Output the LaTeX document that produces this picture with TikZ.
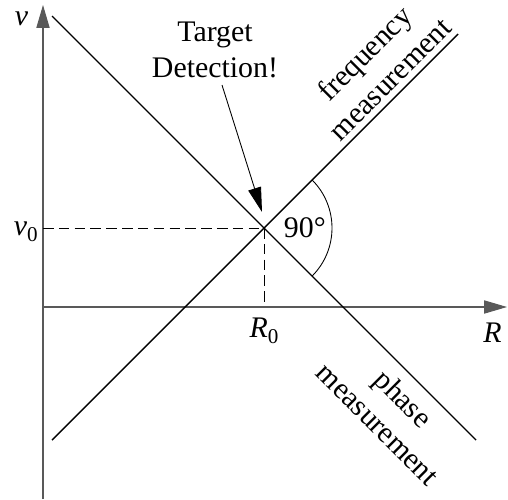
\documentclass[tikz,border=0pt]{standalone}
\usepackage{fontspec}
\setmainfont{Liberation Serif}
\usepackage{tikz}
\usetikzlibrary{calc, angles, quotes, arrows.meta}

\newcommand{\lowsub}[1]{\raisebox{-0.45ex}{\fontsize{12}{12}\selectfont #1}}

\begin{document}
\begin{tikzpicture}[
    every node/.style={font=\fontsize{17}{20.5}\selectfont, inner sep=0pt},
    axis/.style={draw=black!65, line width=0.6pt, -{Triangle[length=13pt, width=7.5pt]}},
    curve/.style={line width=0.8pt},
    guide/.style={line width=0.5pt, dash pattern=on 6pt off 3pt},
    pointer/.style={line width=0.5pt, -{Triangle[length=14pt, width=7.5pt]}}
]
    \useasboundingbox (-0.86,-3.84) rectangle (9.30,6.14);

    \coordinate (O) at (0, 0);
    \coordinate (vbot) at (0, -3.84);
    \coordinate (vtop) at (0, 6.04);
    \coordinate (Rend) at (9.28, 0);
    \coordinate (P) at (4.42, 1.58);
    \coordinate (A) at (0.18, 5.82);
    \coordinate (B) at (8.66, -2.66);
    \coordinate (C) at (0.18, -2.66);
    \coordinate (D) at (8.30, 5.46);
    \coordinate (V0) at (0, 1.58);
    \coordinate (R0) at (4.42, 0);
    \coordinate (T1) at (3.58, 4.44);
    \coordinate (T2) at (4.38, 1.90);

    \draw[axis] (vbot) -- (vtop);
    \draw[axis] (O) -- (Rend);

    \draw[guide] (V0) -- (P);
    \draw[guide] (P) -- (R0);

    \draw[curve] (A) -- (B);
    \draw[curve] (C) -- (D);

    \draw pic[draw=black, line width=0.5pt, angle radius=1.36cm, "90°",
        angle eccentricity=0.6] {angle=B--P--D};

    \node[anchor=base] (vlab) at (-0.43, 5.64) {\textit{v}};
    \node[anchor=base east] (v0lab) at (-0.10, 1.44) {\textit{v}\lowsub{0}};
    \node[anchor=base] (R0lab) at (4.42, -0.60) {\textit{R}\lowsub{0}};
    \node[anchor=base] (Rlab) at (8.99, -0.70) {\textit{R}};

    \node[align=center] (tgt) at (3.44, 5.14) {Target\\Detection!};
    \draw[pointer] (T1) -- (T2);

    \node[align=center, rotate=45] (freq) at (6.68, 4.82) {frequency\\measurement};
    \node[align=center, rotate=-45] (phase) at (6.96, -2.08) {phase\\measurement};
\end{tikzpicture}
\end{document}
